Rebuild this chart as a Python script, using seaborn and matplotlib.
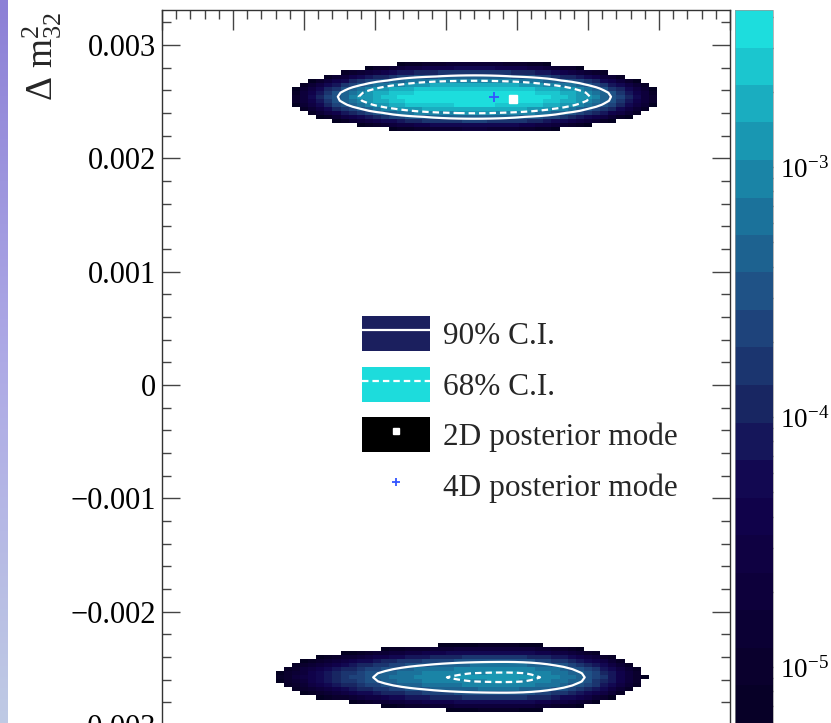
import numpy as np
import pandas as pd
import matplotlib
matplotlib.use("Agg")
import matplotlib.pyplot as plt
from matplotlib.colors import ListedColormap, LinearSegmentedColormap
from matplotlib.lines import Line2D
from matplotlib.patches import Patch
from matplotlib.ticker import MultipleLocator, FixedLocator, FuncFormatter
import seaborn as sns

# ---------------------------------------------------------------------------
# Posterior islands in (sin^2 theta23, Delta m^2_32), one per mass ordering
island_centre_x = [0.520, 0.5415]
island_centre_y = [0.002542, -0.00258]
island_peak = [4.25e-3, 1.17e-3]          # probability per bin at the peak
island_width_left = [0.0597, 0.0683]
island_width_right = [0.0597, 0.0413]
island_height = [8.5e-5, 8.83e-5]
island_shape = [3.35, 2.78]               # exponent of the profile along x

mode_2d = (0.5472, 0.002527)
mode_4d = (0.5338, 0.002544)

x_range = (0.3, 0.7)
y_range = (-0.00331, 0.00331)
n_bins_x = 70
n_bins_y = 186

credible_levels = [0.90, 0.68]
legend_labels = ["90% C.I.", "68% C.I.", "2D posterior mode", "4D posterior mode"]
cbar_exponents = [-3, -4, -5]

# ROOT "DeepSea" palette stops
deepsea_red = [0, 9, 13, 17, 24, 32, 27, 25, 29]
deepsea_green = [0, 0, 0, 2, 37, 74, 113, 160, 221]
deepsea_blue = [28, 42, 59, 78, 98, 129, 154, 184, 221]
n_contours = 20
n_decades = 3

# ---------------------------------------------------------------------------
sns.set_theme(style="ticks")
plt.rcParams["font.family"] = ["Liberation Serif", "DejaVu Serif"]
plt.rcParams["mathtext.fontset"] = "custom"
plt.rcParams["mathtext.rm"] = "Liberation Serif"
plt.rcParams["mathtext.it"] = "Liberation Serif:italic"
plt.rcParams["mathtext.bf"] = "Liberation Serif:bold"
plt.rcParams["axes.unicode_minus"] = True

W, Hpx = 831, 723
fig = plt.figure(figsize=(W / 100, Hpx / 100), dpi=100)
fig.patch.set_facecolor("white")

# slide-edge strip on the left
sax = fig.add_axes([0, 0, 8 / W, 1])
strip = LinearSegmentedColormap.from_list("strip", ["#8c80d6", "#aeaae6", "#bfcae4"])
sax.imshow(np.linspace(0, 1, 256)[:, None], aspect="auto", cmap=strip)
sax.axis("off")

ax = fig.add_axes([162 / W, (Hpx - 760) / Hpx, 568 / W, 750 / Hpx])
cax = fig.add_axes([735 / W, (Hpx - 760) / Hpx, 38 / W, 750 / Hpx])

# binned posterior: each island has elliptical iso-density contours whose
# half-axes grow as t**(1/p) along x and t**(1/2) along y
x_edges = np.linspace(*x_range, n_bins_x + 1)
y_edges = np.linspace(*y_range, n_bins_y + 1)
xc = 0.5 * (x_edges[1:] + x_edges[:-1])
yc = 0.5 * (y_edges[1:] + y_edges[:-1])
X, Y = np.meshgrid(xc, yc, indexing="ij")
post = np.zeros_like(X)
for cx, cy, pk, wl, wr, hh, p in zip(island_centre_x, island_centre_y, island_peak,
                                      island_width_left, island_width_right,
                                      island_height, island_shape):
    u = (X - cx) / np.where(X < cx, wl, wr)
    v = (Y - cy) / hh
    lo = np.full(X.shape, -40.0)
    hi = np.full(X.shape, 9.0)
    for _ in range(70):
        mid = 0.5 * (lo + hi)
        t = np.exp(mid)
        g = u ** 2 * t ** (-2.0 / p) + v ** 2 / t
        outside = g > 1
        lo = np.where(outside, mid, lo)
        hi = np.where(outside, hi, mid)
    t = np.exp(0.5 * (lo + hi))
    post += pk * np.exp(-0.5 * t)

# highest-posterior-density thresholds
flat = np.sort(post.ravel())[::-1]
cum = np.cumsum(flat) / flat.sum()
hpd = [flat[np.searchsorted(cum, c)] for c in credible_levels]

zmax = post.max()
zmin = zmax / 10 ** n_decades
keep = post > zmin
df = pd.DataFrame({"s23": X[keep], "dm32": Y[keep],
                   "logp": np.log10(post[keep] / zmin)})

stops = np.linspace(0, 1, len(deepsea_red))
deepsea = LinearSegmentedColormap.from_list(
    "deepsea",
    list(zip(stops, np.c_[deepsea_red, deepsea_green, deepsea_blue] / 255.0)))
fracs = [int((k + 0.99) * 255 / n_contours) / 254 for k in range(n_contours)]
band_cmap = ListedColormap([deepsea(f) for f in fracs])

sns.histplot(data=df, x="s23", y="dm32", weights="logp", bins=[x_edges, y_edges],
             cmap=band_cmap, vmin=0, vmax=n_decades, thresh=0,
             cbar=True, cbar_ax=cax, ax=ax)
ax.set_xlabel("")
ax.set_ylabel("")

# credible-interval contours
dash = (0, (2.9, 1.8))
ax.contour(xc, yc, post.T, levels=hpd, colors="white", linewidths=1.6,
           linestyles=["solid", dash])

ax.plot(*mode_2d, marker="s", ms=5.5, color="white", ls="none")
ax.plot(*mode_4d, marker="+", ms=7, mew=1.3, color="#3355ff", ls="none")

ax.set_xlim(*x_range)
ax.set_ylim(*y_range)
ax.xaxis.set_major_locator(MultipleLocator(0.05))
ax.xaxis.set_minor_locator(MultipleLocator(0.01))
ax.yaxis.set_major_locator(MultipleLocator(0.001))
ax.yaxis.set_minor_locator(MultipleLocator(0.0002))
ax.yaxis.set_major_formatter(FuncFormatter(
    lambda v, _: "0" if abs(v) < 1e-12 else f"{v:.3f}".replace("-", "\u2212")))
ax.grid(False)
for sp in ax.spines.values():
    sp.set_visible(True)
    sp.set_color("#333333")
    sp.set_linewidth(1.0)
ax.tick_params(which="both", direction="in", top=True, bottom=True, left=True,
               right=True, labelbottom=False, labelleft=True, colors="#444444",
               labelcolor="black", labelsize=22, pad=4, width=1.0)
ax.tick_params(axis="y", which="major", length=13)
ax.tick_params(axis="y", which="minor", length=6.5)
ax.tick_params(axis="x", which="major", length=14.4)
ax.tick_params(axis="x", which="minor", length=6.8)

# colour scale
cbar = ax.collections[0].colorbar
major_pos = [np.log10(10.0 ** e / zmin) for e in cbar_exponents]
cbar.set_ticks(major_pos, labels=[rf"$10^{{{e}}}$" for e in cbar_exponents])
minor_pos = []
for e in range(-7, -1):
    for k in range(2, 10):
        val = k * 10.0 ** e
        if zmin < val < zmax:
            minor_pos.append(np.log10(val / zmin))
cbar.minorlocator = FixedLocator(minor_pos)
cbar.outline.set_linewidth(0.5)
cbar.outline.set_edgecolor("#999999")
cax.tick_params(which="both", direction="in", right=True, left=False,
                colors="#222222", labelcolor="black", labelsize=19.5, pad=5, width=1.0)
cax.tick_params(which="major", length=13.5)
cax.tick_params(which="minor", length=6.5)

fig.text(42 / W, 1 - 12 / Hpx, r"$\Delta\ \mathrm{m}^{2}_{32}$", rotation=90,
         ha="center", va="top", fontsize=27)

h90 = (Patch(facecolor="#1b1f5e", edgecolor="none"),
       Line2D([], [], color="white", lw=1.6))
h68 = (Patch(facecolor="#1ddcdc", edgecolor="none"),
       Line2D([], [], color="white", lw=1.6, ls=dash))
h2d = (Patch(facecolor="black", edgecolor="none"),
       Line2D([], [], marker="s", ms=5, color="white", ls="none"))
h4d = Line2D([], [], marker="+", ms=6, mew=1.3, color="#3355ff", ls="none")
ax.legend([h90, h68, h2d, h4d], legend_labels, loc="upper left",
          bbox_to_anchor=(362 / W, 1 - 316 / Hpx), bbox_transform=fig.transFigure,
          frameon=False, fontsize=22.5, handlelength=2.17, handleheight=1.35,
          handletextpad=0.42, labelspacing=0.50, borderpad=0, borderaxespad=0,
          numpoints=1)

fig.savefig("out.png", dpi=100)
